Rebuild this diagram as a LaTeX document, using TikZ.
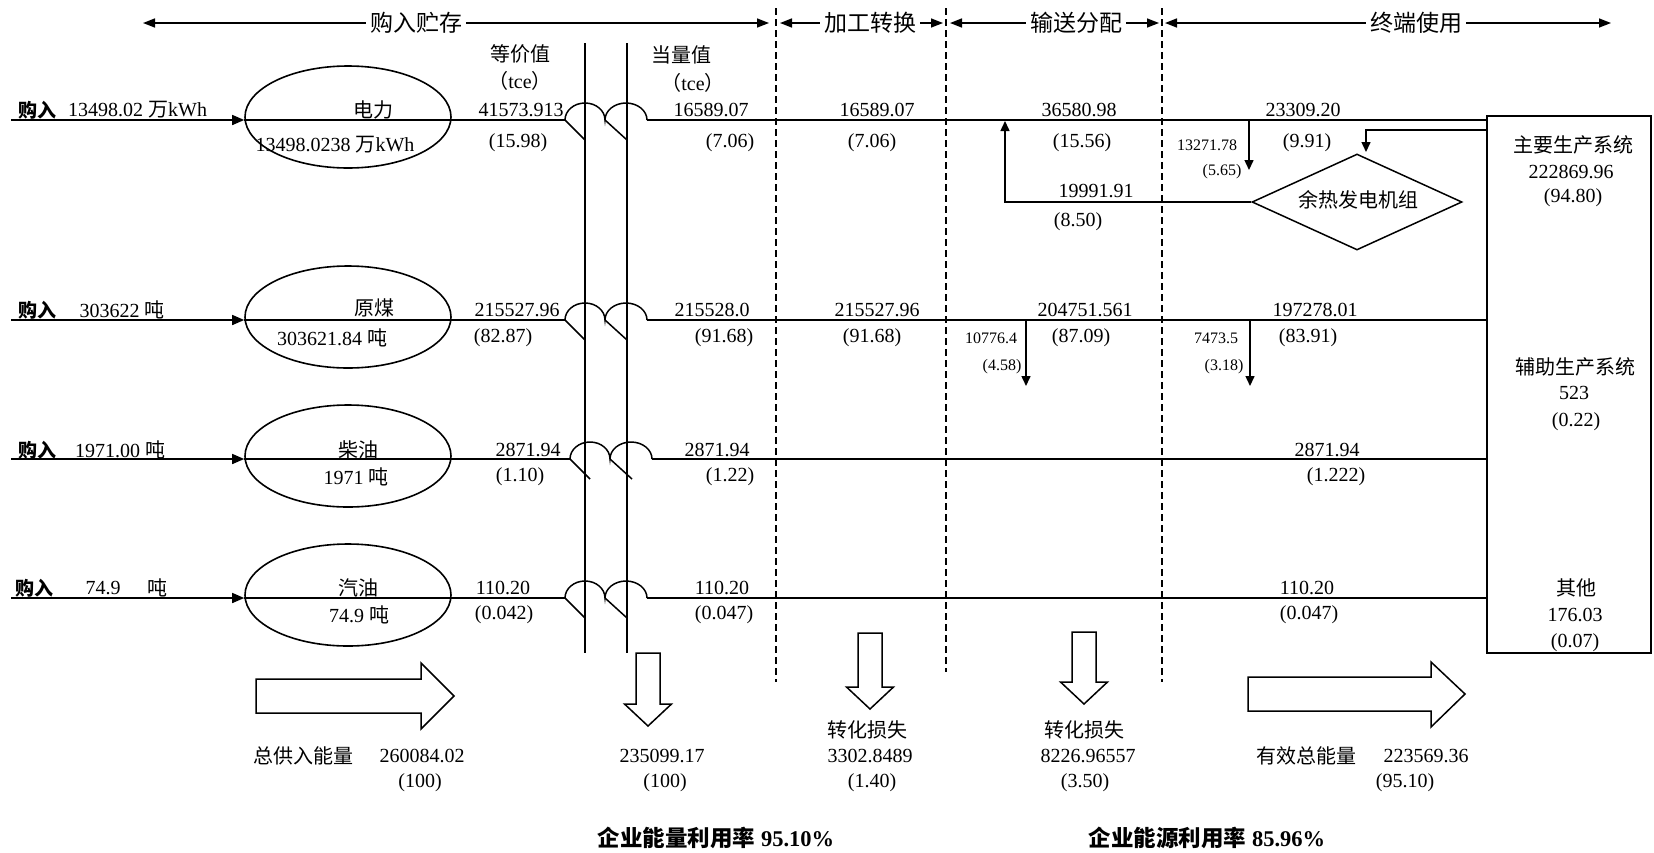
\documentclass[tikz,border=0pt]{standalone}
\usepackage{fontspec}
\setmainfont{Liberation Serif}
\newfontfamily\cjkfont{Noto Sans CJK SC}
\usetikzlibrary{arrows.meta,positioning,calc,shapes.geometric}
\tikzset{
  flowline/.style={draw=black, line width=1.5pt},
  flowarr/.style={flowline, -{Triangle[length=12pt,width=10pt]}},
  lossarr/.style={flowline, -{Triangle[length=10pt,width=9pt]}},
  stagearr/.style={flowline, -{Triangle[length=12pt,width=9pt]}},
  stagesep/.style={draw=black, line width=1.3pt, dash pattern=on 7pt off 4pt},
  fueloval/.style={draw, ellipse, line width=1.6pt, minimum width=206pt, minimum height=102pt, inner sep=0pt},
  sysbox/.style={draw, line width=1.5pt, minimum width=164pt, minimum height=537pt, inner sep=0pt},
  genbox/.style={draw, diamond, line width=1.5pt, aspect=2.2, minimum width=210pt, minimum height=96pt, inner sep=0pt},
  blockarr/.style={draw, line width=1.5pt, fill=white, line join=miter},
  val/.style={font=\fontsize{20}{24}\selectfont, inner sep=0pt},
  smallval/.style={font=\fontsize{16}{19}\selectfont, inner sep=0pt},
  cjk/.style={font=\fontsize{20}{24}\selectfont\cjkfont, inner sep=0pt},
  stage/.style={font=\fontsize{23}{27}\selectfont\cjkfont, inner sep=4pt},
  buylabel/.style={font=\fontsize{19}{23}\selectfont\cjkfont\bfseries, inner sep=0pt},
  ratio/.style={font=\fontsize{22.5}{27}\selectfont\bfseries, inner sep=0pt}
}

\begin{document}
\begin{tikzpicture}[x=1pt, y=-1pt]
  \useasboundingbox (0,0) rectangle (1654,852);

  % stage headings
  \node[stage] (stbuy) at (416,23) {购入贮存};
  \node[stage] (stproc) at (870,23) {加工转换};
  \node[stage] (sttrans) at (1076,23) {输送分配};
  \node[stage] (stuse) at (1416,23) {终端使用};
  \coordinate (b0) at (143,23);
  \coordinate (b1) at (769,23);
  \coordinate (p0) at (780,23);
  \coordinate (p1) at (943,23);
  \coordinate (t0) at (950,23);
  \coordinate (t1) at (1159,23);
  \coordinate (u0) at (1165,23);
  \coordinate (u1) at (1611,23);
  \draw[stagearr] (stbuy) -- (b0);
  \draw[stagearr] (stbuy) -- (b1);
  \draw[stagearr] (stproc) -- (p0);
  \draw[stagearr] (stproc) -- (p1);
  \draw[stagearr] (sttrans) -- (t0);
  \draw[stagearr] (sttrans) -- (t1);
  \draw[stagearr] (stuse) -- (u0);
  \draw[stagearr] (stuse) -- (u1);

  \foreach \x/\e in {776/682, 946/672, 1162/682}
    \draw[stagesep] (\x,8) -- (\x,\e);

  \draw[flowline] (585,43) -- (585,653);
  \draw[flowline] (627,43) -- (627,653);

  \node[cjk] (eqhead) at (520,54) {等价值};
  \node[val] (equnit) at (520,81) {{\cjkfont （}tce{\cjkfont ）}};
  \node[cjk] (cvhead) at (681,55) {当量值};
  \node[val] (cvunit) at (693,83) {{\cjkfont （}tce{\cjkfont ）}};

  % end use box and generator
  \node[sysbox] (sys) at (1569,384.5) {};
  \node[genbox] (gen) at (1357,202) {};
  \node[cjk] (gentxt) at (1358,200) {余热发电机组};

  % fuels
  \node[fueloval] (ell1) at (348,117) {};
  \node[fueloval] (ell2) at (348,317) {};
  \node[fueloval] (ell3) at (348,456) {};
  \node[fueloval] (ell4) at (348,595) {};
  \coordinate (in1) at (11,120);
  \coordinate (in2) at (11,320);
  \coordinate (in3) at (11,459);
  \coordinate (in4) at (11,598);
  \foreach \r/\d in {1/0, 2/0, 3/5, 4/0} {
    \draw[flowarr] (in\r) -- (in\r -| ell\r.west);
    \draw[flowline] (in\r -| ell\r.west) -- ($(in\r)+(554+\d,0)$);
    \draw[flowline] ($(in\r)+(554+\d,0)$)
      arc[start angle=180, end angle=360, x radius=20, y radius=17]
      arc[start angle=180, end angle=360, x radius=21, y radius=17];
    \draw[flowline] ($(in\r)+(554+\d,0)$) -- ++(20,20);
    \draw[flowline] ($(in\r)+(594+\d,0)$) -- ++(22,20);
    \draw[flowline] ($(in\r)+(636+\d,0)$) -- (in\r -| sys.west);
  }

  % electricity
  \node[buylabel] (buy1) at (38,110) {购入};
  \node[val, anchor=west] (qty1) at (68,110) {13498.02 {\cjkfont 万}kWh};
  \node[cjk] (name1) at (373,110) {电力};
  \node[val] (stock1) at (335,145) {13498.0238 {\cjkfont 万}kWh};
  \node[val] (eq1) at (521,110) {41573.913};
  \node[val] (eqp1) at (518,143) {(15.98)};
  \node[val] (cv1) at (711,110) {16589.07};
  \node[val] (cvp1) at (730,143) {(7.06)};
  \node[val] (pr1) at (877,110) {16589.07};
  \node[val] (prp1) at (872,143) {(7.06)};
  \node[val] (tr1) at (1079,110) {36580.98};
  \node[val] (trp1) at (1082,143) {(15.56)};
  \node[val] (us1) at (1303,110) {23309.20};
  \node[val] (usp1) at (1307,143) {(9.91)};
  \coordinate (l1a) at (1249,120);
  \coordinate (l1b) at (1249,170);
  \draw[lossarr] (l1a) -- (l1b);
  \node[smallval] (ls1) at (1207,145) {13271.78};
  \node[smallval] (lsp1) at (1222,172) {(5.65)};
  \coordinate (fbtop) at (1005,121);
  \draw[lossarr] (gen.west) -| (fbtop);
  \node[val] (fb) at (1096,191) {19991.91};
  \node[val] (fbp) at (1078,222) {(8.50)};
  \coordinate (fbin) at (1487,130);
  \coordinate (fbdown) at (1366,152);
  \draw[lossarr] (fbin) -| (fbdown);

  % coal
  \node[buylabel] (buy2) at (38,310) {购入};
  \node[val] (qty2) at (122,310) {303622 {\cjkfont 吨}};
  \node[cjk] (name2) at (374,308) {原煤};
  \node[val] (stock2) at (332,338) {303621.84 {\cjkfont 吨}};
  \node[val] (eq2) at (517,310) {215527.96};
  \node[val] (eqp2) at (503,338) {(82.87)};
  \node[val] (cv2) at (712,310) {215528.0};
  \node[val] (cvp2) at (724,338) {(91.68)};
  \node[val] (pr2) at (877,310) {215527.96};
  \node[val] (prp2) at (872,338) {(91.68)};
  \node[val] (tr2) at (1085,310) {204751.561};
  \node[val] (trp2) at (1081,338) {(87.09)};
  \node[val] (us2) at (1315,310) {197278.01};
  \node[val] (usp2) at (1308,338) {(83.91)};
  \coordinate (l2a) at (1026,320);
  \coordinate (l2b) at (1026,386);
  \draw[lossarr] (l2a) -- (l2b);
  \node[smallval] (ls2) at (991,338) {10776.4};
  \node[smallval] (lsp2) at (1002,367) {(4.58)};
  \coordinate (l3a) at (1250,320);
  \coordinate (l3b) at (1250,386);
  \draw[lossarr] (l3a) -- (l3b);
  \node[smallval] (ls3) at (1216,338) {7473.5};
  \node[smallval] (lsp3) at (1224,367) {(3.18)};

  % diesel
  \node[buylabel] (buy3) at (38,450) {购入};
  \node[val] (qty3) at (120,450) {1971.00 {\cjkfont 吨}};
  \node[cjk] (name3) at (358,450) {柴油};
  \node[val] (stock3) at (356,477) {1971 {\cjkfont 吨}};
  \node[val] (eq3) at (528,450) {2871.94};
  \node[val] (eqp3) at (520,477) {(1.10)};
  \node[val] (cv3) at (717,450) {2871.94};
  \node[val] (cvp3) at (730,477) {(1.22)};
  \node[val] (us3) at (1327,450) {2871.94};
  \node[val] (usp3) at (1336,477) {(1.222)};

  % gasoline
  \node[buylabel] (buy4) at (34,588) {购入};
  \node[val] (qty4) at (103,588) {74.9};
  \node[cjk] (unit4) at (157,588) {吨};
  \node[cjk] (name4) at (358,588) {汽油};
  \node[val] (stock4) at (359,615) {74.9 {\cjkfont 吨}};
  \node[val] (eq4) at (503,588) {110.20};
  \node[val] (eqp4) at (504,615) {(0.042)};
  \node[val] (cv4) at (722,588) {110.20};
  \node[val] (cvp4) at (724,615) {(0.047)};
  \node[val] (us4) at (1307,588) {110.20};
  \node[val] (usp4) at (1309,615) {(0.047)};

  % end use figures
  \node[cjk] (mainsys) at (1573,145) {主要生产系统};
  \node[val] (mainv) at (1571,172) {222869.96};
  \node[val] (mainp) at (1573,198) {(94.80)};
  \node[cjk] (auxsys) at (1575,367) {辅助生产系统};
  \node[val] (auxv) at (1574,393) {523};
  \node[val] (auxp) at (1576,422) {(0.22)};
  \node[cjk] (other) at (1576,588) {其他};
  \node[val] (otherv) at (1575,615) {176.03};
  \node[val] (otherp) at (1575,643) {(0.07)};

  % totals
  \draw[blockarr] (256,679) -- (421,679) -- (421,663) -- (454,696) -- (421,729) -- (421,713) -- (256,713) -- cycle;
  \draw[blockarr] (1248,677) -- (1431,677) -- (1431,662) -- (1465,694) -- (1431,727) -- (1431,711) -- (1248,711) -- cycle;
  \foreach \x/\t/\n in {648/653/704, 870/633/687, 1084/632/682}
    \draw[blockarr] (\x-12,\t) -- (\x+12,\t) -- (\x+12,\n) -- (\x+23.5,\n) -- (\x,\n+22) -- (\x-23.5,\n) -- (\x-12,\n) -- cycle;

  \node[cjk] (supply) at (303,756) {总供入能量};
  \node[val] (supplyv) at (422,756) {260084.02};
  \node[val] (supplyp) at (420,783) {(100)};
  \node[val] (stockv) at (662,756) {235099.17};
  \node[val] (stockp) at (665,783) {(100)};
  \node[cjk] (procloss) at (867,730) {转化损失};
  \node[val] (proclossv) at (870,756) {3302.8489};
  \node[val] (proclossp) at (872,783) {(1.40)};
  \node[cjk] (transloss) at (1084,730) {转化损失};
  \node[val] (translossv) at (1088,756) {8226.96557};
  \node[val] (translossp) at (1085,783) {(3.50)};
  \node[cjk] (useful) at (1306,756) {有效总能量};
  \node[val] (usefulv) at (1426,756) {223569.36};
  \node[val] (usefulp) at (1405,783) {(95.10)};

  \node[ratio] (rate1) at (716,838) {{\cjkfont 企业能量利用率} 95.10\%};
  \node[ratio] (rate2) at (1207,838) {{\cjkfont 企业能源利用率} 85.96\%};
\end{tikzpicture}
\end{document}
